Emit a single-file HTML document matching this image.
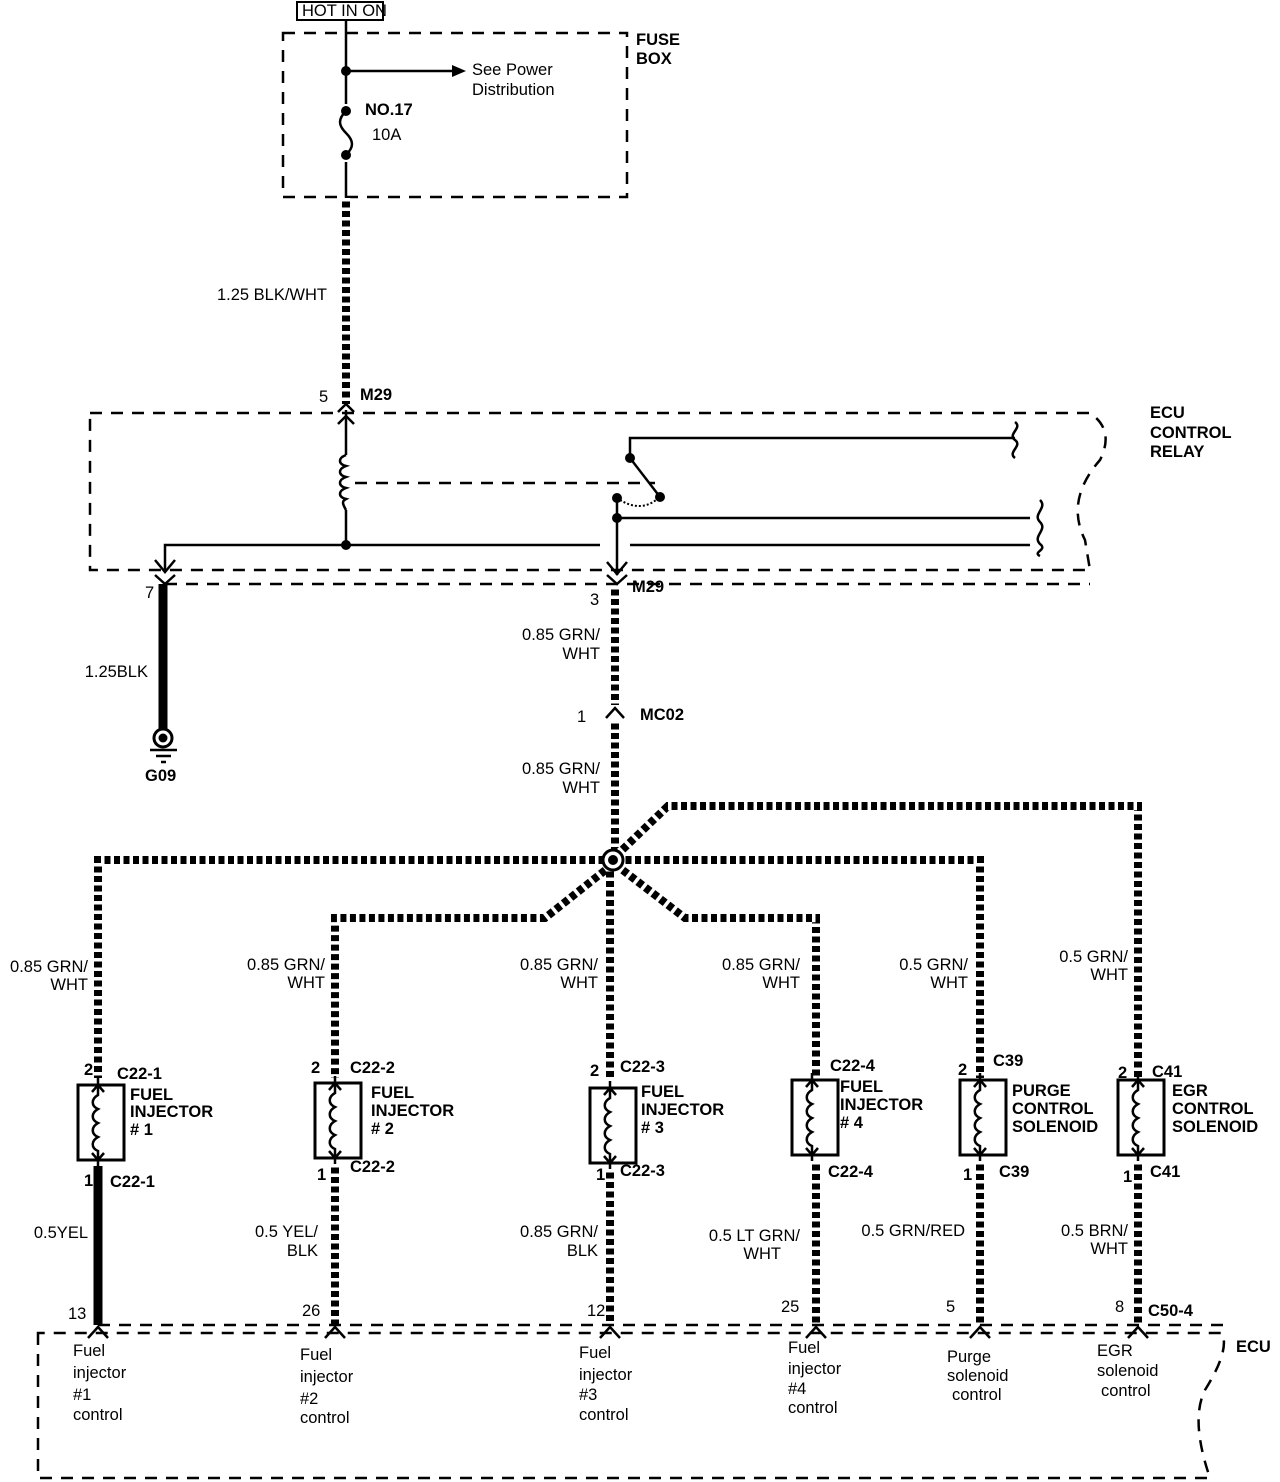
<!DOCTYPE html>
<html><head><meta charset="utf-8"><style>
html,body{margin:0;padding:0;background:#fff;}
svg{display:block;}
text{font-family:"Liberation Sans",sans-serif;font-size:16.5px;fill:#000;}
.b{font-weight:bold;}
.thin{stroke:#000;stroke-width:2.5;fill:none;}
.dash{stroke:#000;stroke-width:2.5;fill:none;stroke-dasharray:12 9;}
.wb{stroke:#000;stroke-width:8;fill:none;stroke-linejoin:miter;}
.ww{stroke:#fff;stroke-width:8.5;fill:none;stroke-dasharray:3.5 6;stroke-linejoin:miter;}
</style></head><body>
<svg width="1280" height="1482" viewBox="0 0 1280 1482">
<rect x="297" y="2" width="86" height="18" fill="none" stroke="#000" stroke-width="2"/>
<text x="302" y="16" font-size="14">HOT IN ON</text>
<rect x="283" y="33" width="344" height="164" class="dash"/>
<text x="636" y="45" class="b">FUSE</text><text x="636" y="64" class="b">BOX</text>
<path d="M346 20 V104 M346 162 V200" class="thin"/>
<path d="M346 111 c-8 8 -8 14 0 22 c8 8 8 14 0 22" class="thin"/>
<circle cx="346" cy="71" r="5"/><circle cx="346" cy="111" r="5"/><circle cx="346" cy="155" r="5"/>
<path d="M346 71 H455" class="thin"/><path d="M452 65 L466 71 L452 77Z"/>
<text x="472" y="75" font-size="18">See Power</text><text x="472" y="95" font-size="18">Distribution</text>
<text x="365" y="115" class="b">NO.17</text><text x="372" y="140">10A</text>
<path d="M346 198 V404" class="wb"/><path d="M346 198 V404" class="ww"/>
<text x="327" y="300" text-anchor="end">1.25 BLK/WHT</text>
<text x="319" y="402">5</text><text x="360" y="400" class="b">M29</text>
<path d="M338 412 L346 404 L354 412" class="thin"/>
<path d="M90 413 H1090 Q1115 430 1100 460 Q1065 500 1085 540 L1090 570 H90 Z" class="dash"/>
<text x="1150" y="418" class="b">ECU</text><text x="1150" y="438" class="b">CONTROL</text><text x="1150" y="457" class="b">RELAY</text>
<path d="M346 410 V455 M346 510 V545" class="thin"/>
<path d="M338 424 L346 416 L354 424" class="thin"/>
<path d="M346 455 c-8 3 -8 9 0 11 c-8 3 -8 9 0 11 c-8 3 -8 9 0 11 c-8 3 -8 9 0 11 c-4 2 -4 4 0 11" class="thin"/>
<path d="M355 483 H655" class="dash"/>
<circle cx="346" cy="545" r="5"/>
<path d="M165 570 V545 H600" class="thin"/>
<path d="M155 560 L165 572 L175 560 M155 575 L165 584 L175 575" class="thin"/>
<path d="M165 584 H1090" class="dash"/>
<path d="M1015 438 H630 V458 L660 497" class="thin"/>
<circle cx="630" cy="458" r="5"/><circle cx="660" cy="497" r="5"/><circle cx="617" cy="498" r="5"/><circle cx="617" cy="518" r="5"/>
<path d="M620 500 Q640 512 656 500" fill="none" stroke="#000" stroke-width="2" stroke-dasharray="2 2"/>
<path d="M617 498 V575 M617 518 H1030 M630 545 H1030" class="thin"/>
<path d="M1015 422 c8 6 -8 12 0 18 c8 6 -8 12 0 18" class="thin"/>
<path d="M1040 500 c8 8 -8 14 0 22 c8 8 -8 14 0 22 c8 6 -8 8 0 12" class="thin"/>
<path d="M607 562 L617 574 L627 562 M607 575 L617 584 L627 575" class="thin"/>
<text x="145" y="598">7</text><text x="590" y="605">3</text><text x="632" y="592" class="b">M29</text>
<path d="M163 584 V730" stroke="#000" stroke-width="9"/>
<text x="148" y="677" text-anchor="end">1.25BLK</text>
<circle cx="163" cy="738" r="9" fill="#fff" stroke="#000" stroke-width="3"/><circle cx="163" cy="738" r="4.5"/>
<path d="M150 750 H177 M156 756 H171 M161 762 H166" class="thin"/>
<text x="145" y="781" class="b">G09</text>
<path d="M615 586 V705 M615 720 V852" class="wb"/><path d="M615 586 V705 M615 720 V852" class="ww"/>
<text x="600" y="640" text-anchor="end">0.85 GRN/</text><text x="600" y="659" text-anchor="end">WHT</text>
<path d="M606 718 L615 708 L624 718" class="thin"/>
<text x="577" y="722">1</text><text x="640" y="720" class="b">MC02</text>
<text x="600" y="774" text-anchor="end">0.85 GRN/</text><text x="600" y="793" text-anchor="end">WHT</text>
<g>
<path d="M608 860 H98 V1078" class="wb"/><path d="M608 860 H98 V1078" class="ww"/>
<path d="M608 868 L545 918 H335 V1078" class="wb"/><path d="M608 868 L545 918 H335 V1078" class="ww"/>
<path d="M610 868 V1078" class="wb"/><path d="M610 868 V1078" class="ww"/>
<path d="M620 868 L685 918 H816 V1078" class="wb"/><path d="M620 868 L685 918 H816 V1078" class="ww"/>
<path d="M622 860 H980 V1078" class="wb"/><path d="M622 860 H980 V1078" class="ww"/>
<path d="M620 852 L668 806 H1138 V1078" class="wb"/><path d="M620 852 L668 806 H1138 V1078" class="ww"/>
</g>
<circle cx="613" cy="860" r="10" fill="#fff" stroke="#000" stroke-width="3"/><circle cx="613" cy="860" r="5"/>
<text x="88" y="972" text-anchor="end">0.85 GRN/</text><text x="88" y="990" text-anchor="end">WHT</text>
<text x="325" y="970" text-anchor="end">0.85 GRN/</text><text x="325" y="988" text-anchor="end">WHT</text>
<text x="598" y="970" text-anchor="end">0.85 GRN/</text><text x="598" y="988" text-anchor="end">WHT</text>
<text x="800" y="970" text-anchor="end">0.85 GRN/</text><text x="800" y="988" text-anchor="end">WHT</text>
<text x="968" y="970" text-anchor="end">0.5 GRN/</text><text x="968" y="988" text-anchor="end">WHT</text>
<text x="1128" y="962" text-anchor="end">0.5 GRN/</text><text x="1128" y="980" text-anchor="end">WHT</text>
<g id="c1">
<rect x="78" y="1085" width="46" height="75" fill="none" stroke="#000" stroke-width="3"/>
<path d="M98 1078 V1095 c-7 4 -7 11 0 14 c-7 4 -7 11 0 14 c-7 4 -7 11 0 14 c-7 4 -7 11 0 14 V1166" class="thin" stroke-width="2"/>
<path d="M92 1092 L98 1085 L104 1092 M92 1153 L98 1160 L104 1153" class="thin" stroke-width="2"/>
</g>
<use href="#c1" x="237" y="-2"/>
<use href="#c1" x="512" y="3"/>
<use href="#c1" x="714" y="-5"/>
<use href="#c1" x="882" y="-5"/>
<use href="#c1" x="1040" y="-5"/>
<g class="b">
<text x="84" y="1075">2</text><text x="117" y="1079">C22-1</text>
<text x="130" y="1100">FUEL</text><text x="130" y="1117">INJECTOR</text><text x="130" y="1135"># 1</text>
<text x="84" y="1186">1</text><text x="110" y="1187">C22-1</text>
<text x="311" y="1073">2</text><text x="350" y="1073">C22-2</text>
<text x="371" y="1098">FUEL</text><text x="371" y="1116">INJECTOR</text><text x="371" y="1134"># 2</text>
<text x="317" y="1180">1</text><text x="350" y="1172">C22-2</text>
<text x="590" y="1076">2</text><text x="620" y="1072">C22-3</text>
<text x="641" y="1097">FUEL</text><text x="641" y="1115">INJECTOR</text><text x="641" y="1133"># 3</text>
<text x="596" y="1180">1</text><text x="620" y="1176">C22-3</text>
<text x="830" y="1071">C22-4</text>
<text x="840" y="1092">FUEL</text><text x="840" y="1110">INJECTOR</text><text x="840" y="1128"># 4</text>
<text x="828" y="1177">C22-4</text>
<text x="958" y="1075">2</text><text x="993" y="1066">C39</text>
<text x="1012" y="1096">PURGE</text><text x="1012" y="1114">CONTROL</text><text x="1012" y="1132">SOLENOID</text>
<text x="963" y="1180">1</text><text x="999" y="1177">C39</text>
<text x="1118" y="1078">2</text><text x="1152" y="1077">C41</text>
<text x="1172" y="1096">EGR</text><text x="1172" y="1114">CONTROL</text><text x="1172" y="1132">SOLENOID</text>
<text x="1123" y="1182">1</text><text x="1150" y="1177">C41</text>
</g>
<path d="M98 1166 V1325" stroke="#000" stroke-width="9"/>
<path d="M335 1164 V1325 M610 1169 V1325 M816 1161 V1325 M980 1161 V1325 M1138 1161 V1325" class="wb"/>
<path d="M335 1164 V1325 M610 1169 V1325 M816 1161 V1325 M980 1161 V1325 M1138 1161 V1325" class="ww"/>
<text x="88" y="1238" text-anchor="end">0.5YEL</text>
<text x="318" y="1237" text-anchor="end">0.5 YEL/</text><text x="318" y="1256" text-anchor="end">BLK</text>
<text x="598" y="1237" text-anchor="end">0.85 GRN/</text><text x="598" y="1256" text-anchor="end">BLK</text>
<text x="800" y="1241" text-anchor="end">0.5 LT GRN/</text><text x="781" y="1259" text-anchor="end">WHT</text>
<text x="965" y="1236" text-anchor="end">0.5 GRN/RED</text>
<text x="1128" y="1236" text-anchor="end">0.5 BRN/</text><text x="1128" y="1254" text-anchor="end">WHT</text>
<text x="68" y="1319">13</text><text x="302" y="1316">26</text><text x="587" y="1316">12</text>
<text x="781" y="1312">25</text><text x="946" y="1312">5</text><text x="1115" y="1312">8</text>
<text x="1148" y="1316" class="b">C50-4</text>
<path d="M38 1333 V1478 H1210 Q1190 1420 1205 1390 Q1230 1350 1222 1333 Z" class="dash"/>
<path d="M98 1325 H1225" class="dash"/>
<path d="M88 1338 L98 1327 L108 1338 M325 1338 L335 1327 L345 1338 M600 1338 L610 1327 L620 1338 M806 1338 L816 1327 L826 1338 M970 1338 L980 1327 L990 1338 M1128 1338 L1138 1327 L1148 1338" class="thin"/>
<text x="1236" y="1352" class="b">ECU</text>
<text x="73" y="1356">Fuel</text><text x="73" y="1378">injector</text><text x="73" y="1400">#1</text><text x="73" y="1420">control</text>
<text x="300" y="1360">Fuel</text><text x="300" y="1382">injector</text><text x="300" y="1404">#2</text><text x="300" y="1423">control</text>
<text x="579" y="1358">Fuel</text><text x="579" y="1380">injector</text><text x="579" y="1400">#3</text><text x="579" y="1420">control</text>
<text x="788" y="1353">Fuel</text><text x="788" y="1374">injector</text><text x="788" y="1394">#4</text><text x="788" y="1413">control</text>
<text x="947" y="1362">Purge</text><text x="947" y="1381">solenoid</text><text x="952" y="1400">control</text>
<text x="1097" y="1356">EGR</text><text x="1097" y="1376">solenoid</text><text x="1101" y="1396">control</text>
</svg>
</body></html>
